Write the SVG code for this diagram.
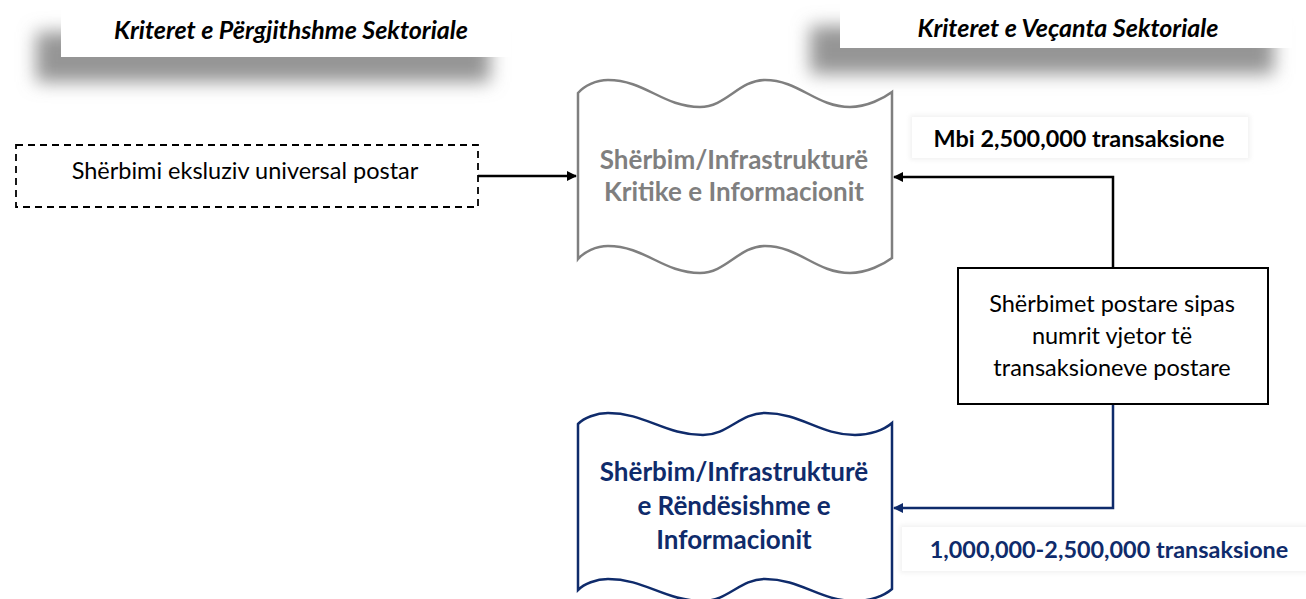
<svg xmlns="http://www.w3.org/2000/svg" width="1306" height="599" viewBox="0 0 1306 599">
<style>
  .hdr{font-family:Lato,"Noto Sans",sans-serif;font-weight:bold;font-style:italic;font-size:25px;fill:#000;text-anchor:middle}
  .reg{font-family:Lato,"Noto Sans",sans-serif;font-size:23.5px;fill:#000;text-anchor:middle}
  .big{font-family:Lato,"Noto Sans",sans-serif;font-weight:bold;font-size:26px;text-anchor:middle}
  .lbl{font-family:Lato,"Noto Sans",sans-serif;font-weight:bold;font-size:23.4px;text-anchor:middle}
  .conn{fill:none;stroke-width:2.5}
</style>
<defs>
  <filter id="blur" x="-20%" y="-100%" width="140%" height="300%"><feGaussianBlur stdDeviation="9"/></filter>
  <filter id="soft" x="-10%" y="-50%" width="120%" height="200%"><feGaussianBlur stdDeviation="2"/></filter>
  <marker id="ahB" markerWidth="10" markerHeight="10" refX="9" refY="5" orient="auto" markerUnits="userSpaceOnUse"><path d="M0,0 L10,5 L0,10 Z" fill="#000"/></marker>
  <marker id="ahN" markerWidth="10" markerHeight="10" refX="9" refY="5" orient="auto" markerUnits="userSpaceOnUse"><path d="M0,0 L10,5 L0,10 Z" fill="#0f2b6b"/></marker>
</defs>
<rect width="1306" height="599" fill="#fff"/>

<g id="header-left">
  <rect x="36" y="32" width="454" height="50" fill="#959595" filter="url(#blur)"/>
  <rect x="61" y="0" width="450" height="57" fill="#fff"/>
  <text class="hdr" x="291" y="39">Kriteret e Përgjithshme Sektoriale</text>
</g>
<g id="header-right">
  <rect x="810" y="26" width="464" height="48" fill="#959595" filter="url(#blur)"/>
  <rect x="840" y="0" width="452" height="48" fill="#fff"/>
  <text class="hdr" x="1068" y="37">Kriteret e Veçanta Sektoriale</text>
</g>

<g id="connectors">
  <path class="conn" d="M478,176 L576,176" stroke="#000" stroke-width="1.8" marker-end="url(#ahB)"/>
  <path class="conn" d="M1113,268 L1113,177 L894,177" stroke="#000" marker-end="url(#ahB)"/>
  <path class="conn" d="M1113,404 L1113,508 L894,508" stroke="#0f2b6b" marker-end="url(#ahN)"/>
</g>

<g id="node-universal">
  <rect x="16" y="145" width="462" height="62" fill="#fff" stroke="#000" stroke-width="1.8" stroke-dasharray="7,5"/>
  <text class="reg" x="245" y="179">Shërbimi eksluziv universal postar</text>
</g>

<g id="node-critical">
  <path d="M578,93 C584,86 596,80 608,80 C645,80 663,107 700,107 C726,107 739,80 765,80 C799,80 816,107 850,107 C867,107 884,98 892,92 L892,258 C884,264 867,273 850,273 C816,273 799,246 765,246 C739,246 726,273 700,273 C663,273 645,246 608,246 C596,246 584,252 578,259 Z" fill="#fff" stroke="#7f7f7f" stroke-width="2.5"/>
  <text class="big" x="734" y="169" fill="#7f7f7f">Shërbim/Infrastrukturë</text>
  <text class="big" x="734" y="201" fill="#7f7f7f">Kritike e Informacionit</text>
</g>

<g id="node-important">
  <path d="M578,424 C584,418 596,413 608,413 C645,413 665,435 703,435 C728,435 740,413 765,413 C801,413 820,435 855,435 C870,435 884,430 892,423 L892,589 C884,596 870,601 855,601 C820,601 801,579 765,579 C740,579 728,601 703,601 C665,601 645,579 608,579 C596,579 584,584 578,590 Z" fill="#fff" stroke="#0f2b6b" stroke-width="2.5"/>
  <text class="big" x="734" y="481" fill="#0f2b6b">Shërbim/Infrastrukturë</text>
  <text class="big" x="734" y="515" fill="#0f2b6b">e Rëndësishme e</text>
  <text class="big" x="734" y="549" fill="#0f2b6b">Informacionit</text>
</g>

<g id="node-postal">
  <rect x="958" y="268" width="310" height="136" fill="#fff" stroke="#000" stroke-width="2"/>
  <text class="reg" x="1112" y="312">Shërbimet postare sipas</text>
  <text class="reg" x="1112" y="344">numrit vjetor të</text>
  <text class="reg" x="1112" y="376">transaksioneve postare</text>
</g>

<g id="label-over">
  <rect x="910" y="115" width="340" height="45" fill="#f2f2f2" filter="url(#soft)"/>
  <rect x="912" y="117" width="336" height="41" fill="#fff"/>
  <text class="lbl" x="1079" y="147" fill="#000">Mbi 2,500,000 transaksione</text>
</g>

<g id="label-range">
  <rect x="900" y="525" width="410" height="48" fill="#f2f2f2" filter="url(#soft)"/>
  <rect x="902" y="527" width="404" height="44" fill="#fff"/>
  <text class="lbl" x="1109" y="558" fill="#0f2b6b">1,000,000-2,500,000 transaksione</text>
</g>
</svg>
